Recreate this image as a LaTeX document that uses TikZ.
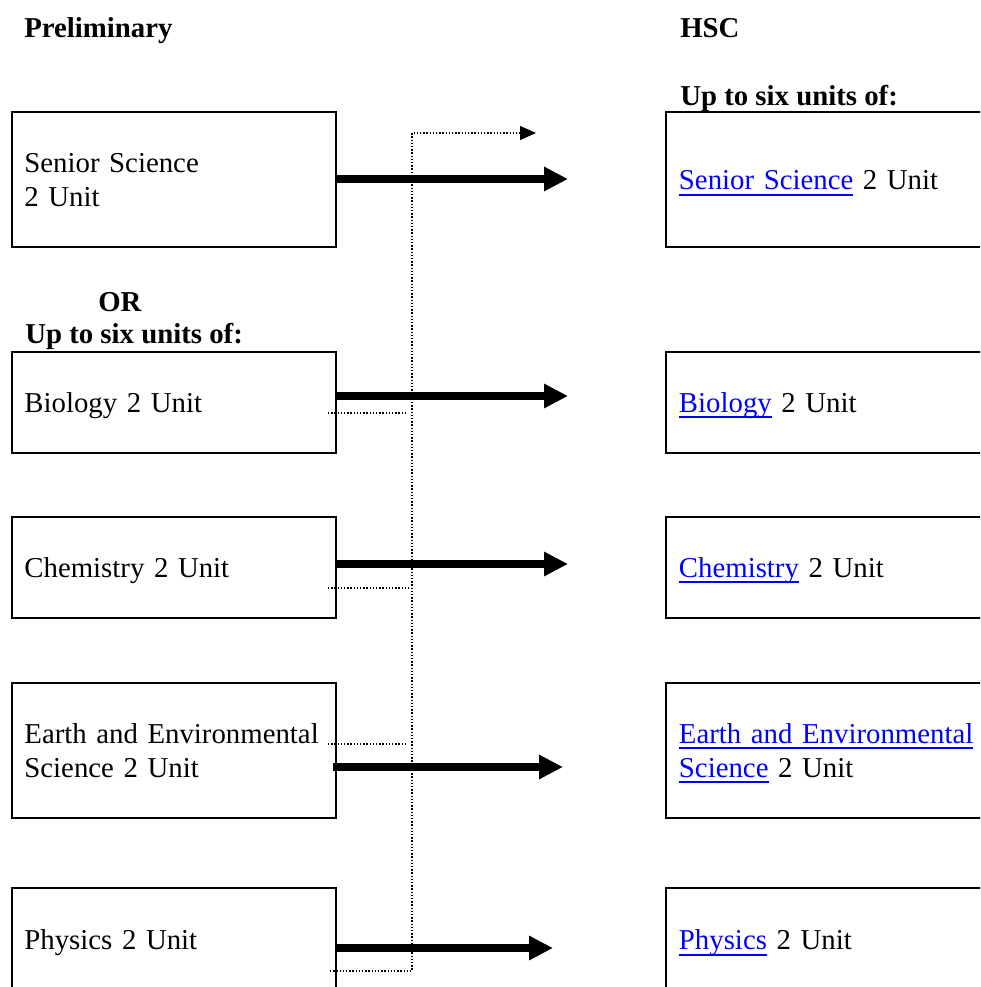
\documentclass[tikz,border=0pt]{standalone}
\usepackage{fontspec}
\setmainfont{Liberation Serif}
\usetikzlibrary{arrows.meta}
\definecolor{linkblue}{RGB}{0,0,255}
\newcommand\mylink[1]{\mbox{\color{linkblue}\setbox0\hbox{#1}\rlap{\smash{\rule[-4.6pt]{\wd0}{1.3pt}}}\box0}}
\begin{document}
\begin{tikzpicture}[x=0.75pt,y=-0.75pt,
  font=\fontsize{21.6pt}{25.5pt}\selectfont,
  box/.style={draw, line width=1.5pt, rectangle, anchor=north west, outer sep=0pt, inner xsep=9.4pt, inner ysep=0pt, align=left, text width=224pt, minimum width=243.4pt},
  rbox/.style={box, inner xsep=10.1pt, text width=354.8pt, minimum width=375pt},
  one/.style={text height=15pt, text depth=0.3pt},
  bigarrow/.style={line width=6pt, -{Triangle[length=18pt,width=17.25pt]}},
  dotline/.style={line width=1pt, dash pattern=on 1pt off 1.4pt},
  dotarrow/.style={dotline, -{Triangle[length=12pt,width=10.5pt]}},
  head/.style={font=\fontsize{21.6pt}{25.5pt}\selectfont\bfseries, anchor=base west, inner sep=0pt}]
\useasboundingbox (0,0) rectangle (980,987);
\clip (0,0) rectangle (980,987);
\fill[white] (0,0) rectangle (980,987);

% headings
\node[head] (hpre) at (24,38) {Preliminary};
\node[head] (hhsc) at (680,38) {HSC};
\node[head] (hup2) at (680,106) {Up to six units of:};
\node[head] (hor) at (98,311) {OR};
\node[head] (hup1) at (25,343) {Up to six units of:};

% left boxes
\node[box, minimum height=100.9pt] (lsen) at (11.5,112.5) {Senior Science\\2 Unit};
\node[box, one, minimum height=76.1pt] (lbio) at (11.5,351.5) {Biology 2 Unit};
\node[box, one, minimum height=76.1pt] (lche) at (11.5,516.5) {Chemistry 2 Unit};
\node[box, minimum height=101.6pt] (lear) at (11.5,682.5) {Earth and Environmental\\Science 2 Unit};
\node[box, one, minimum height=78pt] (lphy) at (11.5,888) {Physics 2 Unit};

% right boxes
\node[rbox, one, minimum height=100.9pt] (rsen) at (665.5,112.5) {\mylink{Senior Science} 2 Unit};
\node[rbox, one, minimum height=76.1pt] (rbio) at (665.5,351.5) {\mylink{Biology} 2 Unit};
\node[rbox, one, minimum height=76.1pt] (rche) at (665.5,516.5) {\mylink{Chemistry} 2 Unit};
\node[rbox, minimum height=101.6pt] (rear) at (665.5,682.5) {\mylink{Earth and Environmental}\\{}\mylink{Science} 2 Unit};
\node[rbox, one, minimum height=78pt] (rphy) at (665.5,888) {\mylink{Physics} 2 Unit};

% thick arrows
\coordinate (a1s) at (336,179); \coordinate (a1e) at (568,179);
\coordinate (a2s) at (336,396); \coordinate (a2e) at (568,396);
\coordinate (a3s) at (336,564); \coordinate (a3e) at (568,564);
\coordinate (a4s) at (333,767); \coordinate (a4e) at (563,767);
\coordinate (a5s) at (336,948); \coordinate (a5e) at (553,948);
\draw[bigarrow] (a1s) -- (a1e);
\draw[bigarrow] (a2s) -- (a2e);
\draw[bigarrow] (a3s) -- (a3e);
\draw[bigarrow] (a4s) -- (a4e);
\draw[bigarrow] (a5s) -- (a5e);

% dotted connector
\coordinate (ps) at (330,971);
\coordinate (dv0) at (412,971);
\coordinate (dv1) at (412,133);
\coordinate (dtip) at (536,133);
\draw[dotarrow] (ps) -- (dv0) -- (dv1) -- (dtip);
\coordinate (bs1) at (328,413); \coordinate (bs2) at (406,413);
\coordinate (cs1) at (328,588); \coordinate (cs2) at (411,588);
\coordinate (es1) at (328,744); \coordinate (es2) at (406,744);
\draw[dotline] (bs1) -- (bs2);
\draw[dotline] (cs1) -- (cs2);
\draw[dotline] (es1) -- (es2);
\end{tikzpicture}
\end{document}
